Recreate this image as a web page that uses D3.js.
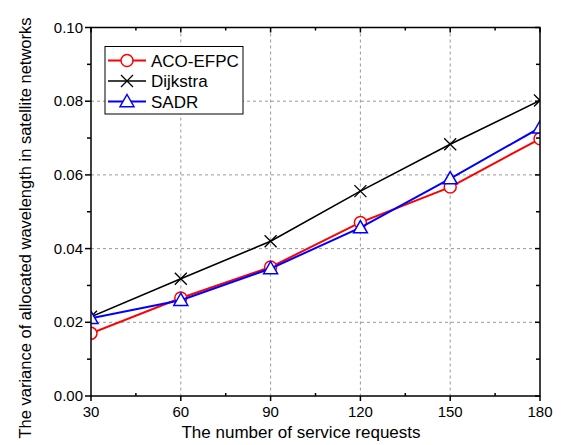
<!DOCTYPE html>
<html><head><meta charset="utf-8">
<script src="https://cdn.jsdelivr.net/npm/d3@7"></script>
<style>body{margin:0;background:#fff}svg{display:block}text{font-family:"Liberation Sans",Arial,sans-serif}</style>
</head><body><svg id="c" width="561" height="445"></svg>
<script>
const xValues = [30, 60, 90, 120, 150, 180];
const acoEfpc = [0.0170, 0.0266, 0.0350, 0.0471, 0.0567, 0.0698];
const dijkstra = [0.0215, 0.0318, 0.0420, 0.0556, 0.0683, 0.0802];
const sadr = [0.0211, 0.0260, 0.0346, 0.0457, 0.0590, 0.0728];
const xTicks = [30, 60, 90, 120, 150, 180];
const yTicks = [0, 0.02, 0.04, 0.06, 0.08, 0.10];
const seriesNames = ["ACO-EFPC", "Dijkstra", "SADR"];

const svg = d3.select("#c");
const L = 91, R = 540, T = 27.5, B = 396;
const x = d3.scaleLinear().domain([30, 180]).range([L, R]);
const y = d3.scaleLinear().domain([0, 0.1]).range([B, T]);

// grid
const grid = svg.append("g").attr("stroke", "#999").attr("stroke-width", 1).attr("stroke-dasharray", "3,3");
xTicks.slice(1, -1).forEach(v => grid.append("line").attr("x1", x(v)).attr("x2", x(v)).attr("y1", T).attr("y2", B));
yTicks.slice(1, -1).forEach(v => grid.append("line").attr("y1", y(v)).attr("y2", y(v)).attr("x1", L).attr("x2", R));

svg.append("clipPath").attr("id", "clip").append("rect").attr("x", L).attr("y", T).attr("width", R - L).attr("height", B - T);

const series = [
  {name: seriesNames[0], vals: acoEfpc, color: "#ff0000", marker: "circle", w: 2},
  {name: seriesNames[1], vals: dijkstra, color: "#000000", marker: "x", w: 1.6},
  {name: seriesNames[2], vals: sadr, color: "#0000ff", marker: "tri", w: 2}
];

function drawMarker(g, type, cx, cy, color) {
  if (type === "circle") {
    g.append("circle").attr("cx", cx).attr("cy", cy).attr("r", 6).attr("fill", "#fff").attr("stroke", color).attr("stroke-width", 1.5);
  } else if (type === "x") {
    const s = 6;
    g.append("path").attr("d", `M${cx-s},${cy-s}L${cx+s},${cy+s}M${cx-s},${cy+s}L${cx+s},${cy-s}`).attr("stroke", color).attr("stroke-width", 1.3).attr("fill", "none");
  } else {
    const s = 7;
    g.append("path").attr("d", `M${cx},${cy-s}L${cx+s},${cy+s*0.75}L${cx-s},${cy+s*0.75}Z`).attr("fill", "#fff").attr("stroke", color).attr("stroke-width", 1.5);
  }
}

const plot = svg.append("g").attr("clip-path", "url(#clip)");
const line = d3.line().x((d, i) => x(xValues[i])).y(d => y(d));
series.forEach(s => {
  plot.append("path").datum(s.vals).attr("d", line).attr("fill", "none").attr("stroke", s.color).attr("stroke-width", s.w);
  s.vals.forEach((v, i) => drawMarker(plot, s.marker, x(xValues[i]), y(v), s.color));
});

// axes frame
const ax = svg.append("g").attr("stroke", "#000").attr("stroke-width", 1.5).attr("fill", "none");
ax.append("rect").attr("x", L).attr("y", T).attr("width", R - L).attr("height", B - T);
xTicks.forEach(v => ax.append("line").attr("x1", x(v)).attr("x2", x(v)).attr("y1", B).attr("y2", B + 5));
xTicks.slice(0, -1).forEach(v => {
  const m = v + 15;
  ax.append("line").attr("x1", x(m)).attr("x2", x(m)).attr("y1", B).attr("y2", B - 3);
  ax.append("line").attr("x1", x(m)).attr("x2", x(m)).attr("y1", T).attr("y2", T + 3);
});
xTicks.forEach(v => ax.append("line").attr("x1", x(v)).attr("x2", x(v)).attr("y1", T).attr("y2", T + 5));
yTicks.forEach(v => {
  ax.append("line").attr("x1", L - 6).attr("x2", L).attr("y1", y(v)).attr("y2", y(v));
  ax.append("line").attr("x1", R - 5).attr("x2", R).attr("y1", y(v)).attr("y2", y(v));
});
yTicks.slice(0, -1).forEach(v => {
  const m = v + 0.01;
  ax.append("line").attr("x1", L - 4).attr("x2", L).attr("y1", y(m)).attr("y2", y(m));
  ax.append("line").attr("x1", R - 4).attr("x2", R).attr("y1", y(m)).attr("y2", y(m));
});

// tick labels
svg.append("g").selectAll("text").data(xTicks).join("text")
  .attr("x", d => x(d)).attr("y", 417).attr("text-anchor", "middle").attr("font-size", 15).text(d => d);
svg.append("g").selectAll("text").data(yTicks).join("text")
  .attr("x", 83).attr("y", d => y(d) + 5).attr("text-anchor", "end").attr("font-size", 15).text(d => d.toFixed(2));

svg.append("text").attr("x", 301).attr("y", 438).attr("text-anchor", "middle").attr("font-size", 17).text("The number of service requests");
svg.append("text").attr("transform", `translate(31,228) rotate(-90)`).attr("text-anchor", "middle").attr("font-size", 16.5).text("The variance of allocated wavelength in satellite networks");

// legend
const lg = svg.append("g");
lg.append("rect").attr("x", 105).attr("y", 46.5).attr("width", 138).attr("height", 67.5).attr("fill", "#fff").attr("stroke", "#000").attr("stroke-width", 1);
series.forEach((s, i) => {
  const ly = 60.5 + i * 20.5;
  lg.append("line").attr("x1", 108).attr("x2", 146).attr("y1", ly).attr("y2", ly).attr("stroke", s.color).attr("stroke-width", s.w);
  drawMarker(lg, s.marker, 127, ly, s.color);
  lg.append("text").attr("x", 151).attr("y", ly + 6).attr("font-size", 17).text(s.name);
});
</script></body></html>
